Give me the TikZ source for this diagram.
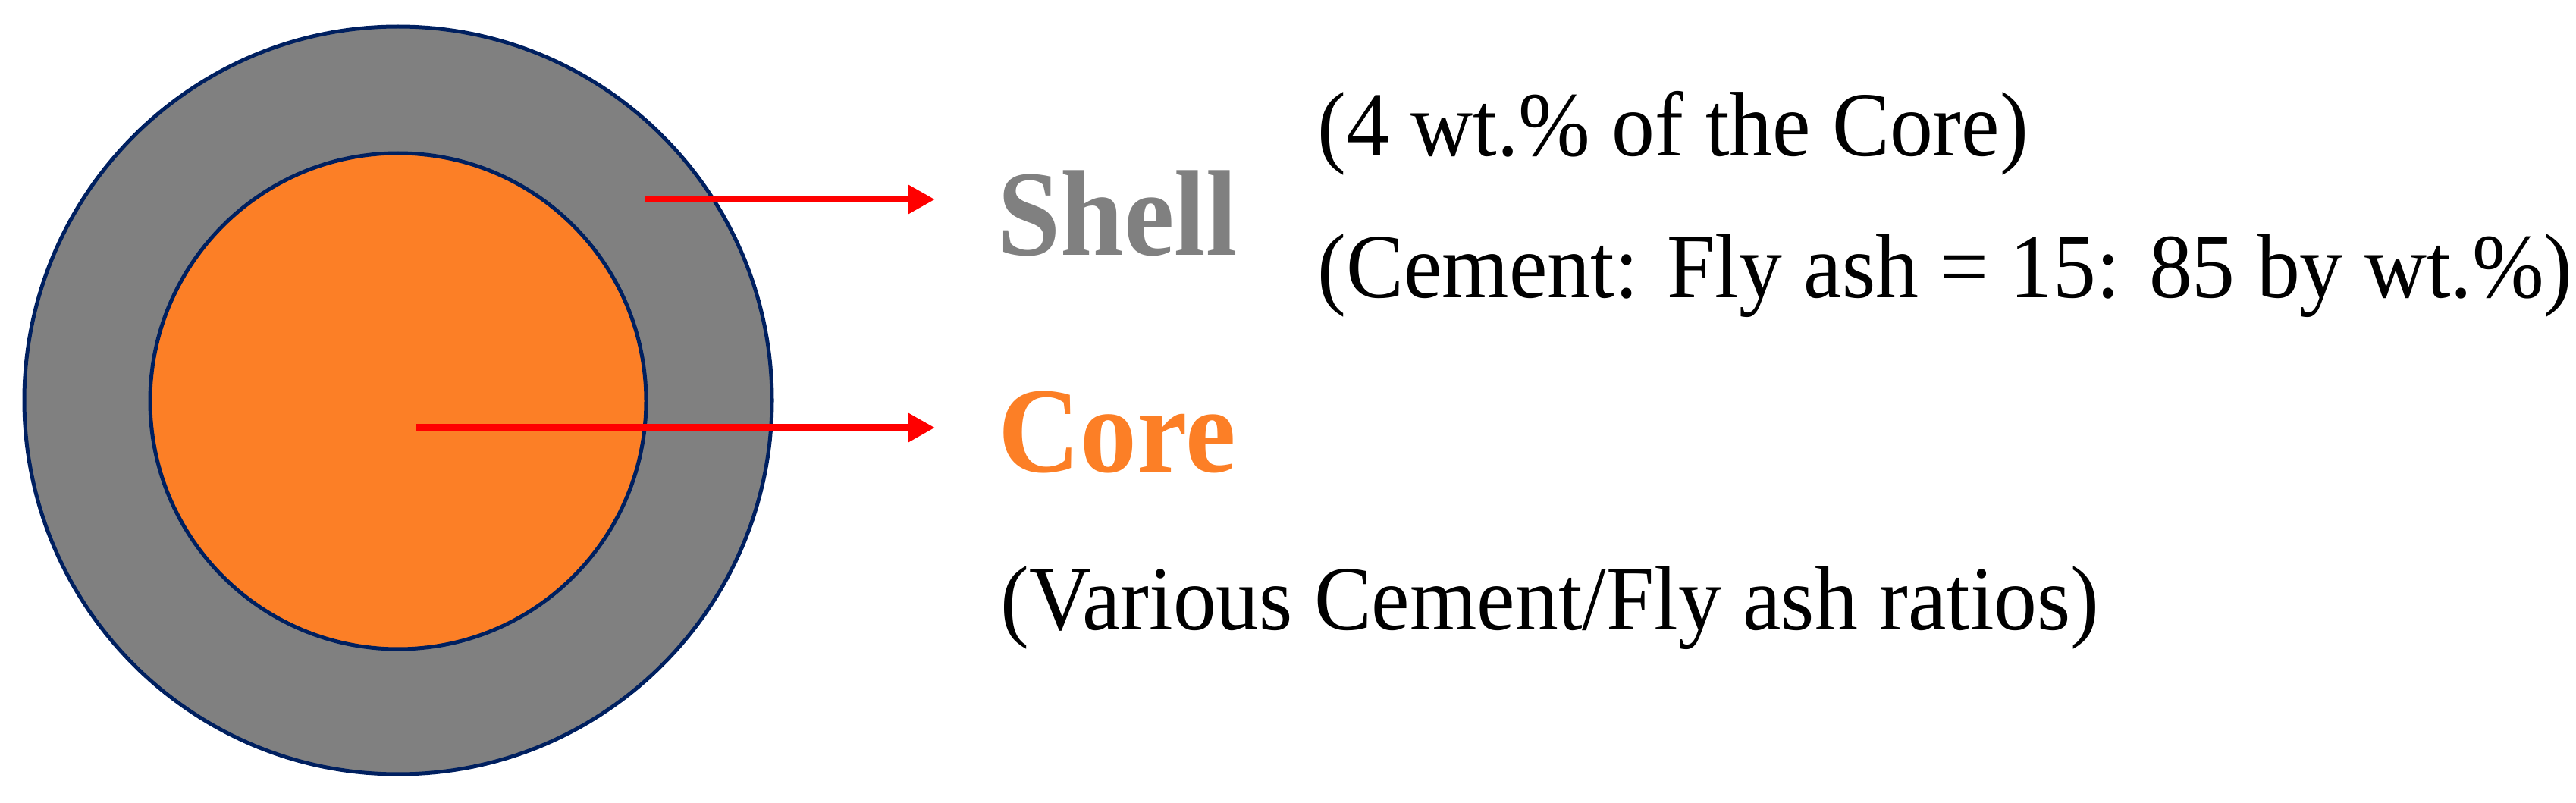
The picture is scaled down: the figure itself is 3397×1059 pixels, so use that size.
\documentclass[tikz,border=0pt]{standalone}
\usepackage{fontspec}
\setmainfont{Liberation Serif}
\usetikzlibrary{arrows.meta}
\definecolor{navy}{RGB}{0,32,96}
\definecolor{shellgray}{RGB}{128,128,128}
\definecolor{coreorange}{RGB}{252,127,38}
\definecolor{arrowred}{RGB}{255,0,0}
\tikzset{
  ring/.style={circle, draw=navy, line width=0.5mm, inner sep=0pt},
  pointer/.style={draw=arrowred, line width=0.9mm, -{Triangle[length=3.6mm,width=3.7mm]}},
  bigword/.style={anchor=base west, inner sep=0pt, font=\fontsize{45.8pt}{50pt}\selectfont\bfseries},
  note/.style={anchor=base west, inner sep=0pt, font=\fontsize{34.4pt}{38pt}\selectfont}
}
\begin{document}
\begin{tikzpicture}[x=0.1mm, y=-0.1mm]
\useasboundingbox (0,0) rectangle (3397,1059);
% particle
\node[ring, fill=shellgray, minimum size=98.6mm] (shell) at (525,528) {};
\node[ring, fill=coreorange, minimum size=65.4mm] (core) at (525,529) {};
% labels
\node[bigword, text=shellgray] (shelltxt) at (1315,337) {\scalebox{0.93}[1]{Shell}};
\node[bigword, text=coreorange] (coretxt) at (1316,622) {\scalebox{0.93}[1]{Core}};
\node[note] (shellA) at (1737,206) {\scalebox{0.94}[1]{(4 wt.\% of the Core)}};
\node[note] (shellB) at (1737,393) {\scalebox{0.94}[1]{(Cement: Fly ash = 15: 85 by wt.\%)}};
\node[note] (coreA) at (1319,830) {\scalebox{0.94}[1]{(Various Cement/Fly ash ratios)}};
% arrows
\coordinate (s0) at (851,263);
\coordinate (s1) at (1233,263);
\coordinate (c0) at (548,564);
\coordinate (c1) at (1233,564);
\draw[pointer] (s0) -- (s1);
\draw[pointer] (c0) -- (c1);
\end{tikzpicture}
\end{document}
